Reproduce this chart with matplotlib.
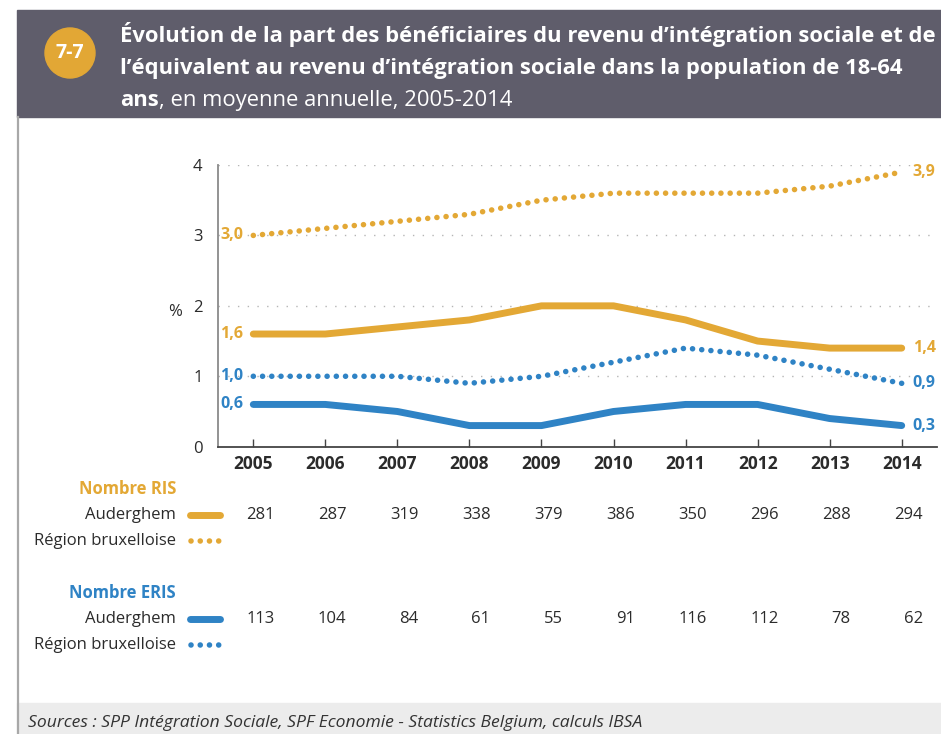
import matplotlib
matplotlib.use("Agg")
import matplotlib.pyplot as plt
from matplotlib import transforms
from matplotlib.patches import Rectangle, Circle

# ---- data ----
years = [2005, 2006, 2007, 2008, 2009, 2010, 2011, 2012, 2013, 2014]
ris_aud = [1.6, 1.6, 1.7, 1.8, 2.0, 2.0, 1.8, 1.5, 1.4, 1.4]
ris_reg = [3.0, 3.1, 3.2, 3.3, 3.5, 3.6, 3.6, 3.6, 3.7, 3.9]
eris_aud = [0.6, 0.6, 0.5, 0.3, 0.3, 0.5, 0.6, 0.6, 0.4, 0.3]
eris_reg = [1.0, 1.0, 1.0, 0.9, 1.0, 1.2, 1.4, 1.3, 1.1, 0.9]
n_ris_aud = [281, 287, 319, 338, 379, 386, 350, 296, 288, 294]
n_eris_aud = [113, 104, 84, 61, 55, 91, 116, 112, 78, 62]
yticks = [0, 1, 2, 3, 4]

ORANGE = "#E3A835"
BLUE = "#2F83C5"
HEAD = "#5F5D6B"
TXT = "#2b2b2b"

W, H = 941, 734
fig = plt.figure(figsize=(W / 100, H / 100), dpi=100)
plt.rcParams['font.family'] = ['Open Sans', 'DejaVu Sans']

def fy(py):
    return 1 - py / H

def fx(px):
    return px / W

# ---- frame / header / footer ----
fig.patches.append(Rectangle((fx(17), fy(117)), 1, (117 - 10) / H, transform=fig.transFigure,
                             color=HEAD, zorder=0))
fig.patches.append(Rectangle((fx(17), 0), 1, (734 - 703) / H, transform=fig.transFigure,
                             color="#ECECEC", zorder=0))
fig.add_artist(plt.Line2D([fx(18), fx(18)], [0, fy(117)], transform=fig.transFigure,
                          color="#A8A8A8", lw=1.6))
circ = Circle((70, H - 53), 25, transform=None, color="#E2A735", zorder=2)
fig.patches.append(circ)
fig.text(fx(70), fy(53), "7-7", color="white", fontsize=14, fontweight="bold",
         ha="center", va="center")

TS = 15.8
fig.text(fx(120), fy(42), "Évolution de la part des bénéficiaires du revenu d’intégration sociale et de",
         color="white", fontsize=TS, fontweight="bold", ha="left", va="baseline")
fig.text(fx(120), fy(74), "l’équivalent au revenu d’intégration sociale dans la population de 18-64",
         color="white", fontsize=TS, fontweight="bold", ha="left", va="baseline")
t3 = fig.text(fx(120), fy(106), "ans", color="white", fontsize=TS, fontweight="bold",
              ha="left", va="baseline")
fig.canvas.draw()
bb = t3.get_window_extent()
fig.text(bb.x1 / W, fy(106), ", en moyenne annuelle, 2005-2014", color="white", fontsize=TS,
         ha="left", va="baseline")

fig.text(fx(28), fy(723), "Sources : SPP Intégration Sociale, SPF Economie - Statistics Belgium, calculs IBSA",
         color="#333333", fontsize=12.6, style="italic", ha="left", va="center")

# ---- axes ----
ax = fig.add_axes([fx(218), fy(446.7), fx(937 - 218), (446.7 - 165) / H])
ax.set_xlim(2004.51, 2014.49)
ax.set_ylim(0, 4)
for s in ["top", "right"]:
    ax.spines[s].set_visible(False)
ax.spines["left"].set_color("#8a8a8a")
ax.spines["left"].set_linewidth(1.3)
ax.spines["bottom"].set_color("#444444")
ax.spines["bottom"].set_linewidth(1.3)
for yv in yticks[1:]:
    ax.axhline(yv, color="#b5b5b5", lw=1.0, ls=(0, (1, 6)), zorder=1)
ax.set_yticks(yticks)
ax.set_yticklabels([str(v) for v in yticks], fontsize=12, color=TXT)
ax.tick_params(axis="y", length=0, pad=11)
ax.set_xticks(years)
ax.set_xticklabels([str(y) for y in years], fontsize=12.5, fontweight="bold", color=TXT)
ax.tick_params(axis="x", direction="in", length=6, width=1, color="#444444", pad=6)
ax.patch.set_alpha(0)
fig.text(fx(175), fy(312), "%", fontsize=12, color=TXT, ha="center", va="center")

solid_lw = 5.0
dot_lw = 4.0
dots = (0, (0.01, 1.65))
ax.plot(years, ris_reg, color=ORANGE, lw=dot_lw, ls=dots, dash_capstyle="round",
        clip_on=False, zorder=3)
ax.plot(years, eris_reg, color=BLUE, lw=dot_lw, ls=dots, dash_capstyle="round",
        clip_on=False, zorder=3)
ax.plot(years, ris_aud, color=ORANGE, lw=solid_lw, solid_capstyle="round", clip_on=False, zorder=4)
ax.plot(years, eris_aud, color=BLUE, lw=solid_lw, solid_capstyle="round", clip_on=False, zorder=4)

def fmt(v):
    return f"{v:.1f}".replace(".", ",")

for series, col in [(ris_reg, ORANGE), (ris_aud, ORANGE), (eris_reg, BLUE), (eris_aud, BLUE)]:
    tl = transforms.offset_copy(ax.transData, fig=fig, x=-10, y=0, units="dots")
    ax.text(years[0], series[0], fmt(series[0]), transform=tl, ha="right", va="center",
            color=col, fontsize=11.5, fontweight="bold", clip_on=False)
    tr = transforms.offset_copy(ax.transData, fig=fig, x=11, y=0, units="dots")
    ax.text(years[-1], series[-1], fmt(series[-1]), transform=tr, ha="left", va="center",
            color=col, fontsize=11.5, fontweight="bold", clip_on=False)

# ---- table below ----
blend = transforms.blended_transform_factory(ax.transData, fig.transFigure)
bl_off = transforms.offset_copy(blend, fig=fig, x=21, y=0, units="dots")
lbl_x = fx(176)

def legend_sample(py, col, dotted):
    if dotted:
        fig.add_artist(plt.Line2D([fx(191), fx(219)], [fy(py), fy(py)], transform=fig.transFigure,
                                  color=col, lw=dot_lw, ls=(0, (0.01, 1.65)), dash_capstyle="round"))
    else:
        fig.add_artist(plt.Line2D([fx(190), fx(220)], [fy(py), fy(py)], transform=fig.transFigure,
                                  color=col, lw=solid_lw, solid_capstyle="round"))

for top, title, col, vals in [(489, "Nombre RIS", ORANGE, n_ris_aud), (593, "Nombre ERIS", BLUE, n_eris_aud)]:
    fig.text(lbl_x, fy(top), title, color=col, fontsize=12, fontweight="bold", ha="right", va="center")
    fig.text(lbl_x, fy(top + 26), "Auderghem", color=TXT, fontsize=12, ha="right", va="center")
    fig.text(lbl_x, fy(top + 52), "Région bruxelloise", color=TXT, fontsize=12, ha="right", va="center")
    legend_sample(top + 26, col, False)
    legend_sample(top + 52, col, True)
    for yr, v in zip(years, vals):
        ax.text(yr, fy(top + 26), str(v), transform=bl_off, ha="right", va="center",
                color=TXT, fontsize=12, clip_on=False)

fig.savefig("out.png", dpi=100)
